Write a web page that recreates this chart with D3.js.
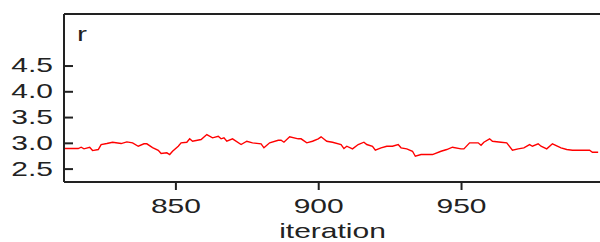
<!DOCTYPE html>
<html>
<head>
<meta charset="utf-8">
<script src="https://cdn.jsdelivr.net/npm/d3@7"></script>
<style>
  body { margin: 0; background: #fff; }
  svg { display: block; }
  text { font-family: "Liberation Sans", Arial, sans-serif; fill: #222; }
</style>
</head>
<body>
<div id="chart"></div>
<script>
/* trace data */
const ITERATIONS = [811, 816, 817, 818, 820, 821, 823, 824, 826, 828, 831, 833, 835, 837, 839, 840,
  842, 844, 845, 847, 848, 849, 851, 852, 854, 855, 856, 859, 861, 863, 865, 866, 867, 868, 870,
  873, 875, 877, 880, 881, 883, 886, 887, 888, 890, 893, 894, 896, 898, 900, 901, 903, 905, 908,
  909, 910, 912, 914, 916, 917, 919, 920, 922, 924, 926, 928, 929, 931, 933, 934, 936, 940, 943,
  945, 947, 950, 951, 953, 956, 957, 958, 960, 961, 964, 966, 968, 970, 972, 974, 975, 977, 978,
  980, 982, 985, 987, 989, 995, 996, 998];
const R_VALUES = [2.889, 2.889, 2.915, 2.883, 2.915, 2.850, 2.870, 2.967, 2.986, 3.012, 2.986, 3.019,
  3.000, 2.934, 2.981, 2.981, 2.909, 2.856, 2.792, 2.806, 2.773, 2.837, 2.934, 3.000, 3.012, 3.078,
  3.031, 3.064, 3.161, 3.097, 3.128, 3.078, 3.097, 3.031, 3.078, 2.967, 3.031, 3.000, 2.981, 2.903,
  3.000, 3.050, 3.050, 3.012, 3.117, 3.078, 3.078, 3.000, 3.031, 3.078, 3.117, 3.031, 3.012, 2.967,
  2.889, 2.934, 2.883, 2.967, 3.012, 2.967, 2.934, 2.856, 2.903, 2.934, 2.934, 2.967, 2.903, 2.883,
  2.837, 2.740, 2.773, 2.773, 2.837, 2.870, 2.915, 2.883, 2.883, 3.000, 3.000, 2.953, 3.012, 3.078,
  3.031, 3.012, 3.000, 2.856, 2.883, 2.903, 2.967, 2.934, 2.981, 2.934, 2.883, 2.981, 2.903, 2.870,
  2.856, 2.856, 2.817, 2.817];
const X_TICKS = [850, 900, 950];
const Y_TICKS = [2.5, 3.0, 3.5, 4.0, 4.5];

const WIDTH = 600;
const HEIGHT = 242;
const LEFT = 64, RIGHT = 601, TOP = 14, BOTTOM = 182;
const STRETCH = 1.5;

const svg = d3.select('#chart').append('svg')
    .attr('width', WIDTH)
    .attr('height', HEIGHT);

const x = d3.scaleLinear().domain([811, 999]).range([LEFT, RIGHT]);
const y = d3.scaleLinear().domain([2.24, 5.5]).range([BOTTOM, TOP]);

svg.append('clipPath').attr('id', 'plot')
  .append('rect')
    .attr('x', LEFT).attr('y', TOP)
    .attr('width', RIGHT - LEFT).attr('height', BOTTOM - TOP);

// trace
const pts = ITERATIONS.map((it, i) => [it, R_VALUES[i]]);
svg.append('path')
    .datum(pts)
    .attr('clip-path', 'url(#plot)')
    .attr('fill', 'none')
    .attr('stroke', '#ff0000')
    .attr('stroke-width', 1.4)
    .attr('d', d3.line().x(d => x(d[0])).y(d => y(d[1])));

// y axis, ticks pointing inward
const yAxis = svg.append('g')
    .attr('transform', `translate(${LEFT},0)`)
    .call(d3.axisLeft(y).tickValues(Y_TICKS).tickFormat(d3.format('.1f')).tickSize(-9).tickPadding(11));
yAxis.select('.domain').remove();
yAxis.selectAll('line').attr('stroke', '#222').attr('stroke-width', 2);
yAxis.selectAll('text')
    .attr('x', -11 / STRETCH)
    .attr('transform', `scale(${STRETCH},1)`)
    .style('font-size', '20px');

// x axis
const xAxis = svg.append('g')
    .attr('transform', `translate(0,${BOTTOM})`)
    .call(d3.axisBottom(x).tickValues(X_TICKS).tickSize(8).tickPadding(9));
xAxis.select('.domain').remove();
xAxis.selectAll('line').attr('stroke', '#222').attr('stroke-width', 2);
xAxis.selectAll('text')
    .attr('transform', `scale(${STRETCH},1)`)
    .style('font-size', '20px');

// frame: top, left, bottom
const frame = [[LEFT, TOP, RIGHT + 5, TOP], [LEFT, TOP, LEFT, BOTTOM], [LEFT, BOTTOM, RIGHT + 5, BOTTOM]];
svg.append('g').selectAll('line').data(frame).enter().append('line')
    .attr('x1', d => d[0]).attr('y1', d => d[1])
    .attr('x2', d => d[2]).attr('y2', d => d[3])
    .attr('stroke', '#222')
    .attr('stroke-width', 2);

// labels
svg.append('text')
    .attr('transform', `translate(77,41) scale(${STRETCH},1)`)
    .style('font-size', '20px')
    .text('r');

svg.append('text')
    .attr('transform', `translate(${(LEFT + RIGHT) / 2},238) scale(${STRETCH},1)`)
    .attr('text-anchor', 'middle')
    .style('font-size', '20px')
    .text('iteration');
</script>
</body>
</html>
